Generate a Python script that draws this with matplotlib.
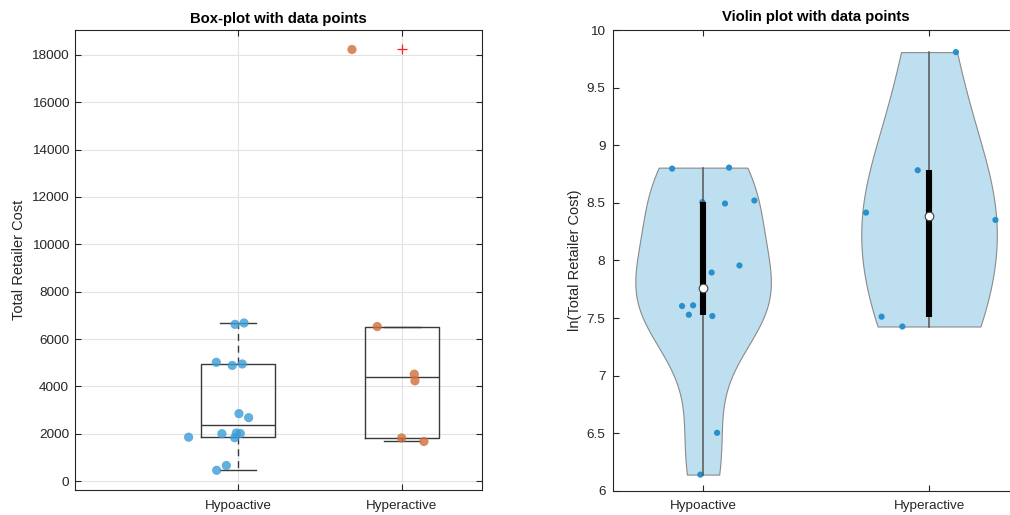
import numpy as np
import matplotlib
matplotlib.use('Agg')
import matplotlib.pyplot as plt

plt.rcParams['font.family'] = ['Liberation Sans', 'DejaVu Sans']

# ---------------- data ----------------
groups = ['Hypoactive', 'Hyperactive']
hypo_cost = [6622, 6680, 4950, 4890, 5020, 2855, 2686, 2007, 2019, 2037, 1861, 1840, 667, 464]
hyper_cost = [6530, 4520, 4240, 1830, 1680, 18220]
# horizontal jitter of the points (box-plot panel)
hypo_jit_box = [-0.018, 0.037, 0.026, -0.035, -0.132, 0.006, 0.065, -0.098, 0.014, -0.010,
                -0.301, -0.020, -0.071, -0.130]
hyper_jit_box = [-0.151, 0.075, 0.079, -0.002, 0.134, -0.305]
# horizontal jitter of the points (violin panel)
hypo_jit_vio = [-0.137, 0.115, -0.003, 0.097, 0.227, 0.161, 0.038, -0.093, -0.044, -0.001,
                -0.063, 0.041, 0.062, -0.012]
hyper_jit_vio = [-0.050, -0.279, 0.294, -0.210, -0.118, 0.119]

box_yticks = [0, 2000, 4000, 6000, 8000, 10000, 12000, 14000, 16000, 18000]
vio_yticks = [6, 6.5, 7, 7.5, 8, 8.5, 9, 9.5, 10]
vio_yticklabels = ['6', '6.5', '7', '7.5', '8', '8.5', '9', '9.5', '10']

TXT = '#262626'
blue_pts = '#3A9CD6'
orange_pts = '#D06D38'
vio_fill = '#BEDFF0'
vio_pts = '#2891CD'


def matlab_prctile(x, p):
    s = np.sort(np.asarray(x, float))
    n = len(s)
    r = n * p / 100.0 + 0.5
    return float(np.interp(r, np.arange(1, n + 1), s))


def box_stats(x):
    x = np.asarray(x, float)
    q1 = matlab_prctile(x, 25)
    q3 = matlab_prctile(x, 75)
    med = matlab_prctile(x, 50)
    iqr = q3 - q1
    hi_lim = q3 + 1.5 * iqr
    lo_lim = q1 - 1.5 * iqr
    inside = x[(x >= lo_lim) & (x <= hi_lim)]
    return dict(med=med, q1=q1, q3=q3, whislo=inside.min(), whishi=inside.max(),
                fliers=x[(x < lo_lim) | (x > hi_lim)])


def style_axes(ax):
    for s in ax.spines.values():
        s.set_color(TXT)
        s.set_linewidth(0.8)
    ax.tick_params(direction='in', top=True, right=True, length=4, width=0.8,
                   colors=TXT, labelsize=9.7, labelcolor=TXT)


fig = plt.figure(figsize=(10.10, 5.15), dpi=100)

# ---------------- box plot ----------------
ax1 = fig.add_axes([75.3 / 1010, 1 - 490.3 / 515, 406.7 / 1010, 460 / 515])
ax1.set_axisbelow(True)
ax1.grid(True, color='#e3e3e3', linewidth=0.8)

stats = [box_stats(hypo_cost), box_stats(hyper_cost)]
line_c = '#3a3a3a'
ax1.bxp(stats, positions=[1, 2], widths=0.448, capwidths=0.224, showfliers=True,
        boxprops=dict(color=line_c, linewidth=1.0),
        medianprops=dict(color=line_c, linewidth=1.0),
        whiskerprops=dict(color=line_c, linewidth=1.0, linestyle=(0, (5, 3.5))),
        capprops=dict(color=line_c, linewidth=1.0),
        flierprops=dict(marker='+', markeredgecolor='#ff2020', markersize=7,
                        markeredgewidth=0.9, linestyle='none'))

ax1.scatter(1 + np.array(hypo_jit_box), hypo_cost, s=44, color=blue_pts, alpha=0.8,
            edgecolors='none', zorder=3)
ax1.scatter(2 + np.array(hyper_jit_box), hyper_cost, s=44, color=orange_pts, alpha=0.8,
            edgecolors='none', zorder=3)

ax1.set_xlim(0.008, 2.488)
ax1.set_ylim(-380, 19030)
ax1.set_xticks([1, 2])
ax1.set_xticklabels(groups)
ax1.set_yticks(box_yticks)
ax1.set_yticklabels([str(v) for v in box_yticks])
style_axes(ax1)
ax1.tick_params(axis='x', pad=7)
ax1.tick_params(axis='y', pad=4.5)
ax1.set_ylabel('Total Retailer Cost', fontsize=10.5, color=TXT)
ax1.yaxis.set_label_coords(-0.12, 0.5)
ax1.set_title('Box-plot with data points', fontsize=10.7, fontweight='bold', color='black', pad=5)

# ---------------- violin plot ----------------
ax2 = fig.add_axes([612.7 / 1010, 1 - 490.7 / 515, 406.7 / 1010, 460.4 / 515])


def matlab_bw(x):
    x = np.asarray(x, float)
    sig = np.median(np.abs(x - np.median(x))) / 0.6745
    return sig * (4.0 / (3.0 * len(x))) ** 0.2


vio_data = [np.log(hypo_cost), np.log(hyper_cost)]
vio_jit = [hypo_jit_vio, hyper_jit_vio]
for pos, d, jit in zip([1, 2], vio_data, vio_jit):
    h = matlab_bw(d)
    yy = np.linspace(d.min(), d.max(), 300)
    dens = np.exp(-0.5 * ((yy[:, None] - d[None, :]) / h) ** 2).sum(axis=1)
    w = dens / dens.max() * 0.30
    ax2.fill_betweenx(yy, pos - w, pos + w, facecolor=vio_fill, edgecolor='#8a8a8a',
                      linewidth=0.8, zorder=1)
    ax2.scatter(pos + np.array(jit), d, s=20, color=vio_pts, edgecolors='none', zorder=2)
    ax2.plot([pos, pos], [d.min(), d.max()], color='#555555', linewidth=1.1, zorder=3)
    q1 = matlab_prctile(d, 25)
    q3 = matlab_prctile(d, 75)
    med = matlab_prctile(d, 50)
    ax2.plot([pos, pos], [q1, q3], color='black', linewidth=4.4, solid_capstyle='butt', zorder=4)
    ax2.plot([pos], [med], marker='o', markersize=6.2, markerfacecolor='white',
             markeredgecolor='#404040', markeredgewidth=0.8, zorder=5)

ax2.set_xlim(0.6, 2.4)
ax2.set_ylim(6, 10)
ax2.set_xticks([1, 2])
ax2.set_xticklabels(groups)
ax2.set_yticks(vio_yticks)
ax2.set_yticklabels(vio_yticklabels)
style_axes(ax2)
ax2.tick_params(axis='x', pad=7)
ax2.tick_params(axis='y', pad=5.2)
ax2.set_ylabel('ln(Total Retailer Cost)', fontsize=10.5, color=TXT)
ax2.yaxis.set_label_coords(-0.0755, 0.5)
ax2.text(0.5 * (612.7 + 1019.4) / 1010, 1 - 17 / 515, 'Violin plot with data points',
         transform=fig.transFigure, ha='center', va='center', fontsize=10.7,
         fontweight='bold', color='black')

fig.savefig('out.png', dpi=100)
